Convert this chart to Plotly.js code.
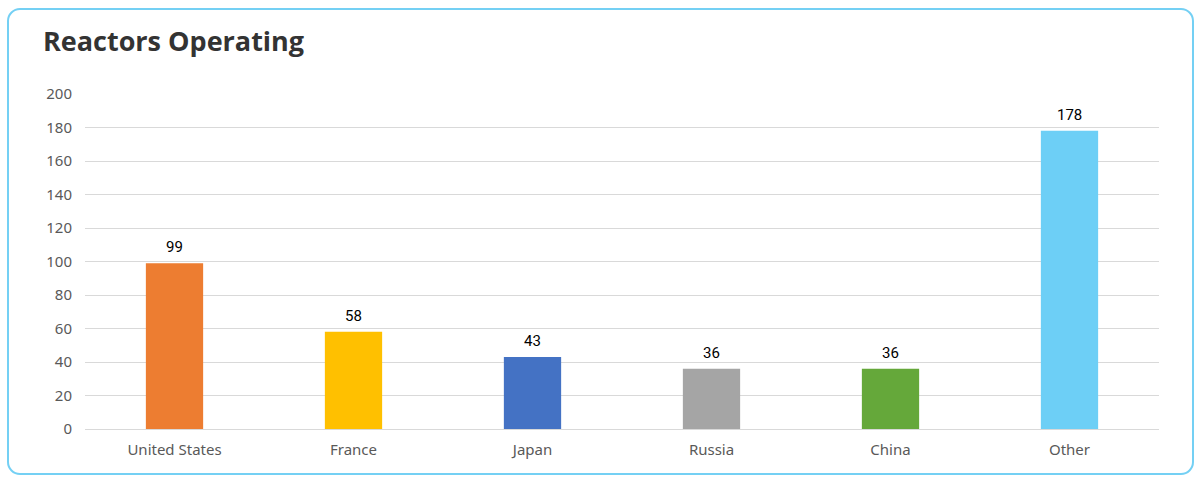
<!DOCTYPE html>
<html>
<head>
<meta charset="utf-8">
<script src="https://cdn.plot.ly/plotly-3.0.1.min.js"></script>
<style>
html,body{margin:0;padding:0;background:#fff;}
#wrap{position:relative;width:1200px;height:481px;}
#chart{position:absolute;left:0;top:0;width:1200px;height:481px;}
#frame{position:absolute;left:7px;top:8px;width:1183px;height:463px;border:2px solid #74d0f4;border-radius:13px;pointer-events:none;}
</style>
</head>
<body>
<div id="wrap"><div id="chart"></div><div id="frame"></div></div>
<script>
const countries = ["United States","France","Japan","Russia","China","Other"];
const reactors = [99,58,43,36,36,178];
const barColors = ["#ED7D31","#FFC000","#4472C4","#A5A5A5","#65A83A","#6DCFF6"];
const yTicks = [0,20,40,60,80,100,120,140,160,180,200];

const trace = {
  type:"bar",
  x:countries,
  y:reactors,
  marker:{color:barColors},
  hoverinfo:"none"
};
const labels = countries.map((c,i)=>({
  x:c, y:reactors[i], xref:"x", yref:"y",
  text:String(reactors[i]), showarrow:false,
  yanchor:"bottom", yshift:5,
  font:{family:"Roboto, 'Open Sans', sans-serif",size:15,color:"#000"}
}));
const layout = {
  width:1200,height:481,
  paper_bgcolor:"rgba(0,0,0,0)",plot_bgcolor:"rgba(0,0,0,0)",
  margin:{l:85,r:41,t:94,b:52},
  title:{text:"<b>Reactors Operating</b>",xref:"container",x:0.0358,xanchor:"left",
    yref:"container",y:0.913,yanchor:"middle",
    font:{family:"'Open Sans', 'Noto Sans', sans-serif",size:27,color:"#333333"}},
  bargap:0.68,
  showlegend:false,
  annotations:labels,
  xaxis:{type:"category",showgrid:false,showline:false,zeroline:false,ticks:"",
    ticklabelstandoff:10,
    tickfont:{family:"'Noto Sans', 'Open Sans', sans-serif",size:15,color:"#595959"}},
  yaxis:{range:[0,200],tickvals:yTicks,showgrid:true,gridcolor:"#d9d9d9",gridwidth:1,
    zeroline:true,zerolinecolor:"#d9d9d9",zerolinewidth:1,showline:false,ticks:"",
    ticklabelstandoff:12,
    tickfont:{family:"'Noto Sans', 'Open Sans', sans-serif",size:15,color:"#595959"}}
};
Plotly.newPlot("chart",[trace],layout,{displayModeBar:false,staticPlot:true});
</script>
</body>
</html>
